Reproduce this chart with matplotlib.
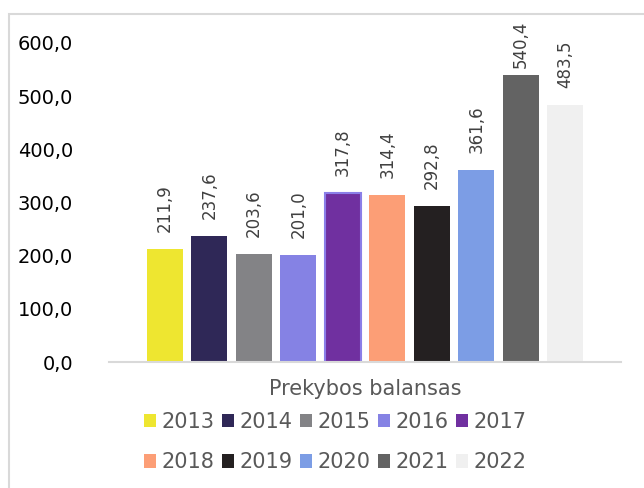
import numpy as np
import matplotlib.pyplot as plt
from matplotlib.patches import Rectangle, Patch

years = ["2013", "2014", "2015", "2016", "2017",
         "2018", "2019", "2020", "2021", "2022"]
values = [211.9, 237.6, 203.6, 201.0, 317.8, 314.4, 292.8, 361.6, 540.4, 483.5]
colors = ["#EEE630", "#2F2857", "#838386", "#8582E4", "#7030A0",
          "#FC9E76", "#242021", "#7C9DE5", "#636363", "#F0F0F0"]
category = "Prekybos balansas"
yticks = [0, 100, 200, 300, 400, 500, 600]


def fmt(v):
    return f"{v:.1f}".replace(".", ",")


def main():
    fig = plt.figure(figsize=(6.44, 4.88), dpi=100)
    W, H = 644, 488

    # chart border (cut at right and bottom like the screenshot)
    fig.patches.append(Rectangle((9 / W, -0.1), 1.2, 1 - 14 / H + 0.1,
                                 transform=fig.transFigure, fill=False,
                                 edgecolor="#d9d9d9", linewidth=1.5))

    ax = fig.add_axes([109 / W, 1 - 362 / H, (621 - 109) / W, (362 - 43) / H])
    x = np.arange(len(values))
    pitch = 44.5
    width = 36 / pitch
    bars = ax.bar(x, values, width=width, color=colors)
    bars[4].set_edgecolor("#8B7FE8")
    bars[4].set_linewidth(1.5)

    for xi, v in zip(x, values):
        off = 17 if v < 520 else 7
        ax.annotate(fmt(v), (xi, v), xytext=(0, off * 0.72),
                    textcoords="offset points", rotation=90,
                    ha="center", va="bottom", fontsize=12,
                    color="#404040", annotation_clip=False)

    ax.set_xlim((109 - 165) / pitch, (621 - 165) / pitch)
    ax.set_ylim(0, 600)
    ax.set_yticks(yticks)
    ax.set_yticklabels([fmt(t) for t in yticks], fontsize=14, color="#000000")
    ax.tick_params(axis="y", length=0, pad=26)
    ax.set_xticks([])
    for s in ["top", "right", "left"]:
        ax.spines[s].set_visible(False)
    ax.spines["bottom"].set_color("#d9d9d9")
    ax.spines["bottom"].set_linewidth(1.5)

    fig.text(365 / W, 1 - 389 / H, category, ha="center", va="center",
             fontsize=15, color="#595959")

    # legend fills column-wise, so reorder to get rows 2013-2017 / 2018-2022
    order = [0, 5, 1, 6, 2, 7, 3, 8, 4, 9]
    handles = [Patch(facecolor=colors[i]) for i in order]
    labels = [years[i] for i in order]
    fig.legend(handles, labels, loc="center", ncol=5,
               bbox_to_anchor=(335 / W, 1 - 442 / H), frameon=False,
               fontsize=15, labelcolor="#595959", handlelength=0.6,
               handleheight=0.6, handletextpad=0.25, columnspacing=0.35,
               labelspacing=1.0, borderpad=0)

    fig.savefig("out.png", dpi=100)
    plt.close(fig)


if __name__ == "__main__":
    main()
